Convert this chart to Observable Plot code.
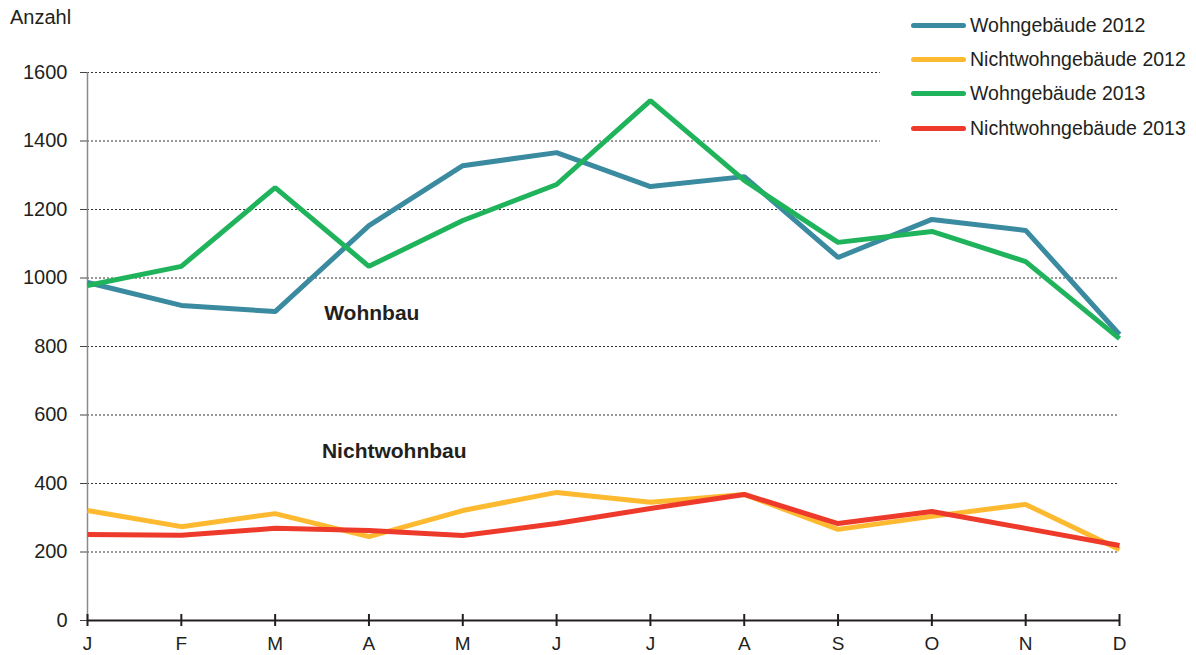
<!DOCTYPE html>
<html><head><meta charset="utf-8">
<script src="https://cdn.jsdelivr.net/npm/d3@7"></script>
<script src="https://cdn.jsdelivr.net/npm/@observablehq/plot@0.6"></script>
<style>
body{margin:0;background:#fff;font-family:"Liberation Sans",Arial,Helvetica,sans-serif;color:#231f20}
#wrap{position:relative;width:1196px;height:655px;overflow:hidden}
#wrap svg{position:absolute;left:0;top:0}
.ylab{position:absolute;left:10px;top:7px;font-size:20px;line-height:20px}
.leg{position:absolute;left:911px;top:0;width:285px;height:150px}
.row{position:absolute;left:0;height:20px;width:285px}
.sw{position:absolute;left:0;top:7.5px;width:55px;height:5px;border-radius:3px}
.lt{position:absolute;left:59px;top:0;font-size:19.5px;line-height:20px;white-space:nowrap}
</style></head><body><div id="wrap"></div>
<script>
const months = ["J","F","M","A","M","J","J","A","S","O","N","D"];
const seriesNames = ["Wohngebäude 2012","Nichtwohngebäude 2012","Wohngebäude 2013","Nichtwohngebäude 2013"];
const seriesColors = ["#3a8aa0","#fdba30","#1fb35b","#ee3a2b"];
const wohn2012 = [987, 920, 902, 1153, 1328, 1366, 1267, 1296, 1060, 1171, 1139, 835];
const nichtwohn2012 = [321, 274, 312, 245, 321, 374, 345, 368, 266, 304, 339, 207];
const wohn2013 = [978, 1034, 1264, 1034, 1168, 1273, 1518, 1285, 1104, 1136, 1048, 823];
const nichtwohn2013 = [251, 249, 269, 263, 248, 283, 327, 368, 283, 318, 269, 219];
const yTicks = [0, 200, 400, 600, 800, 1000, 1200, 1400, 1600];
const gridFull = [200, 400, 600, 800, 1000, 1200];
const gridShort = [1400, 1600];
const gridShortEnd = [8.45];
const annoText = ["Wohnbau", "Nichtwohnbau"];
const annoX = [3.03, 3.27];
const annoY = [896, 493];

const seriesValues = [wohn2012, nichtwohn2012, wohn2013, nichtwohn2013];
const order = [0, 2, 1, 3];
const rows = [];
order.forEach(s => {
  seriesValues[s].forEach((v, i) => rows.push({m: i, v, s: seriesNames[s], k: s}));
});
const annos = annoText.map((t, i) => ({t, x: annoX[i], y: annoY[i]}));
const font = '"Liberation Sans",Arial,Helvetica,sans-serif';

const lineMarks = order.map(s => Plot.line(rows.filter(r => r.k === s), {
  x: "m", y: "v", stroke: seriesColors[s], strokeWidth: 5, strokeLinejoin: "miter", strokeLinecap: "butt"
}));

const chart = Plot.plot({
  width: 1196, height: 655,
  marginLeft: 87, marginRight: 77, marginTop: 72, marginBottom: 35,
  x: {domain: [0, 11], label: null},
  y: {domain: [0, 1600], label: null},
  style: {fontFamily: font, fontSize: "20px", color: "#231f20", background: "white", overflow: "visible"},
  marks: [
    Plot.ruleY(gridFull, {stroke: "#333", strokeWidth: 1, strokeDasharray: "2,2"}),
    Plot.ruleY(gridShort, {x1: 0, x2: gridShortEnd[0], stroke: "#333", strokeWidth: 1, strokeDasharray: "2,2"}),
    Plot.ruleX([0], {stroke: "#8a8a8a", strokeWidth: 1.5}),
    Plot.axisY({ticks: yTicks, tickSize: 7, tickPadding: 13, tickFormat: d => String(d), stroke: "#444", fontSize: 20}),
    Plot.axisX({ticks: d3.range(12), tickSize: 6, tickPadding: 10, tickFormat: i => months[i], fontSize: 19, strokeWidth: 2}),
    Plot.axisX({ticks: d3.range(12), tickSize: 6, dy: -6, tickFormat: () => "", strokeWidth: 2}),
    Plot.ruleY([0], {stroke: "#231f20", strokeWidth: 2}),
    ...lineMarks,
    Plot.text(annos, {x: "x", y: "y", text: "t", fontWeight: "bold", fontSize: 21, fill: "#231f20"})
  ]
});

const wrap = document.getElementById("wrap");
wrap.appendChild(chart);

const yl = document.createElement("div");
yl.className = "ylab"; yl.textContent = "Anzahl";
wrap.appendChild(yl);

const leg = document.createElement("div");
leg.className = "leg";
const legendY = [25, 59, 93, 128];
seriesNames.forEach((n, i) => {
  const r = document.createElement("div");
  r.className = "row"; r.style.top = (legendY[i] - 10) + "px";
  const sw = document.createElement("div");
  sw.className = "sw"; sw.style.background = seriesColors[i];
  const t = document.createElement("div");
  t.className = "lt"; t.textContent = n;
  r.appendChild(sw); r.appendChild(t);
  leg.appendChild(r);
});
wrap.appendChild(leg);
</script>
</body></html>
